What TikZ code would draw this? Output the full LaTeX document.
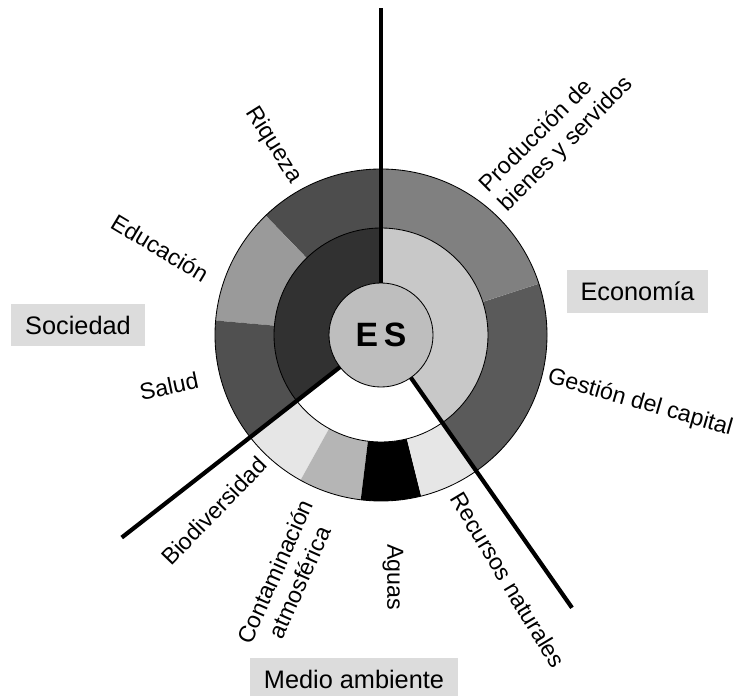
\documentclass[tikz,border=0pt]{standalone}
\usepackage{fontspec}
\setmainfont{Liberation Sans}
\usetikzlibrary{calc}
\definecolor{riqueza}{HTML}{4D4D4D}
\definecolor{educacion}{HTML}{9A9A9A}
\definecolor{salud}{HTML}{505050}
\definecolor{produccion}{HTML}{808080}
\definecolor{gestion}{HTML}{5A5A5A}
\definecolor{biodiv}{HTML}{E6E6E6}
\definecolor{contam}{HTML}{B5B5B5}
\definecolor{sociedad}{HTML}{313131}
\definecolor{economia}{HTML}{C8C8C8}
\definecolor{esgray}{HTML}{BEBEBE}
\definecolor{boxgray}{HTML}{DCDCDC}
\tikzstyle{spoke}=[line width=3pt,black]
\tikzstyle{ring}=[draw=black,line width=0.6pt]
\tikzstyle{areabox}=[fill=boxgray,inner xsep=0.35cm,minimum height=1.05cm,font=\fontsize{18}{20}\selectfont]
\tikzstyle{seclabel}=[font=\fontsize{16.5}{19}\selectfont,inner sep=0pt,align=center]

\begin{document}
\begin{tikzpicture}[x=0.025cm,y=0.025cm]
	\def \rin {52};
	\def \rmid {107};
	\def \rout {166};
	\useasboundingbox (-381,-360) rectangle (359,335);

	% outer ring
	\foreach \a/\b/\c in {90/134/riqueza,134/175/educacion,175/218/salud,218/241/biodiv,241/263/contam,263/284/black,284/305/biodiv,-55/18/gestion,18/90/produccion} {
		\fill[\c] (0,0) -- (\a:\rout) arc[start angle=\a, end angle=\b, radius=\rout] -- cycle;
	};

	% inner ring
	\foreach \a/\b/\c in {90/218/sociedad,218/305/white,-55/90/economia} {
		\fill[\c] (0,0) -- (\a:\rmid) arc[start angle=\a, end angle=\b, radius=\rmid] -- cycle;
	};

	\draw[ring] (0,0) circle[radius=\rout];
	\draw[ring] (0,0) circle[radius=\rmid];
	\node[circle,fill=esgray,draw=black,line width=0.6pt,minimum size=2.6cm,outer sep=0pt,font=\fontsize{24}{26}\selectfont\bfseries] (es) at (0,0) {E\,S};

	\coordinate (topend) at (90:327);
	\coordinate (leftend) at (218:329);
	\coordinate (rightend) at (-55:333);
	\draw[spoke] (es.90) -- (topend);
	\draw[spoke] (es.218) -- (leftend);
	\draw[spoke] (es.-55) -- (rightend);

	\node[seclabel,rotate=-58] (riq) at (-107.5,190) {Riqueza};
	\node[seclabel,rotate=-31] (edu) at (-221,87) {Educación};
	\node[seclabel,rotate=12] (sal) at (-212,-51) {Salud};
	\node[seclabel,rotate=45,align=left] (prod) at (176,200) {Producción de\\bienes y servidos};
	\node[seclabel,rotate=-16] (ges) at (259,-68) {Gestión del capital};
	\node[seclabel,rotate=46] (bio) at (-167,-176) {Biodiversidad};
	\node[seclabel,rotate=66] (con) at (-94,-242) {Contaminación\\atmosférica};
	\node[seclabel,rotate=-90] (agu) at (12,-242) {Aguas};
	\node[seclabel,rotate=-59] (rec) at (127,-245) {Recursos naturales};

	\node[areabox] (soc) at (-303,10) {Sociedad};
	\node[areabox] (eco) at (256.5,43.5) {Economía};
	\node[areabox] (med) at (-27,-344) {Medio ambiente};
\end{tikzpicture}
\end{document}
